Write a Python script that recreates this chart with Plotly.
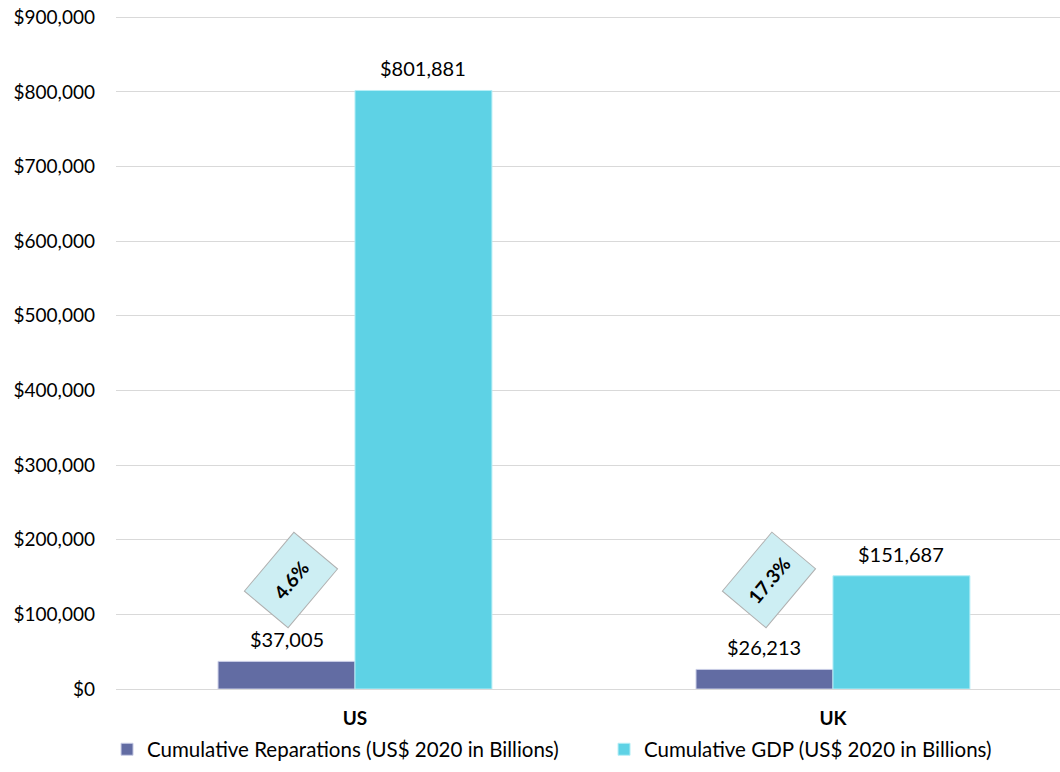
import plotly.graph_objects as go

categories = ["US", "UK"]
reparations = [37005, 26213]
gdp = [801881, 151687]
series_names = ["Cumulative Reparations (US$ 2020 in Billions)", "Cumulative GDP (US$ 2020 in Billions)"]
y_ticks = [0, 100000, 200000, 300000, 400000, 500000, 600000, 700000, 800000, 900000]

FONT = "Lato, 'Open Sans', sans-serif"
BARGAP = 0.427
X_RANGE = [-0.5, 1.475]
PLOT_W = 944
bar_px = (1 - BARGAP) / 2 * PLOT_W / (X_RANGE[1] - X_RANGE[0])

fig = go.Figure()
fig.add_trace(go.Bar(
    x=categories, y=reparations, name=series_names[0],
    marker=dict(color="#626ca3", line=dict(color="#c9cde6", width=1)),
))
fig.add_trace(go.Bar(
    x=categories, y=gdp, name=series_names[1],
    marker=dict(color="#5ed2e5", line=dict(color="#b6eef6", width=1)),
))

for i, (r, g) in enumerate(zip(reparations, gdp)):
    for val, sgn in ((r, -1), (g, 1)):
        fig.add_annotation(
            x=i, y=val, xref="x", yref="y", xshift=sgn * bar_px / 2, yshift=8,
            yanchor="bottom", text=f"${val:,}", showarrow=False,
            font=dict(size=20, color="#000", family=FONT),
        )
    pct = r / g * 100
    fig.add_annotation(
        x=i, y=146000, xref="x", yref="y", xshift=-64,
        text=f"<b>{pct:.1f}%</b>", showarrow=False,
        textangle=-50, width=74, height=54,
        bgcolor="#cdeef3", bordercolor="#b0b0b0", borderwidth=1,
        font=dict(size=19, color="#000", family=FONT),
    )

fig.update_layout(
    width=1060, height=772,
    margin=dict(l=116, r=0, t=15, b=83, autoexpand=False),
    paper_bgcolor="white", plot_bgcolor="white",
    font=dict(family=FONT, size=19, color="#000"),
    barmode="group", bargap=BARGAP, bargroupgap=0,
    showlegend=True,
    legend=dict(orientation="h", x=-0.0095, xanchor="left", y=-0.06, yanchor="top",
                font=dict(size=20.5), itemwidth=30, tracegroupgap=0,
                entrywidth=452, entrywidthmode="pixels"),
    xaxis=dict(range=X_RANGE, showline=True, linecolor="#d9d9d9", ticks="",
               tickfont=dict(size=19), tickprefix="<b>", ticksuffix="</b>",
               ticklabelstandoff=12),
    yaxis=dict(range=[0, 903000], tickvals=y_ticks, tickformat="$,", gridcolor="#d9d9d9",
               zeroline=False, ticks="", ticklen=0, tickfont=dict(size=19), ticklabelstandoff=20),
)

fig.write_html(
    "out.html",
    config={"displayModeBar": False},
    post_script="document.body.style.margin='0';document.body.style.padding='0';",
)
